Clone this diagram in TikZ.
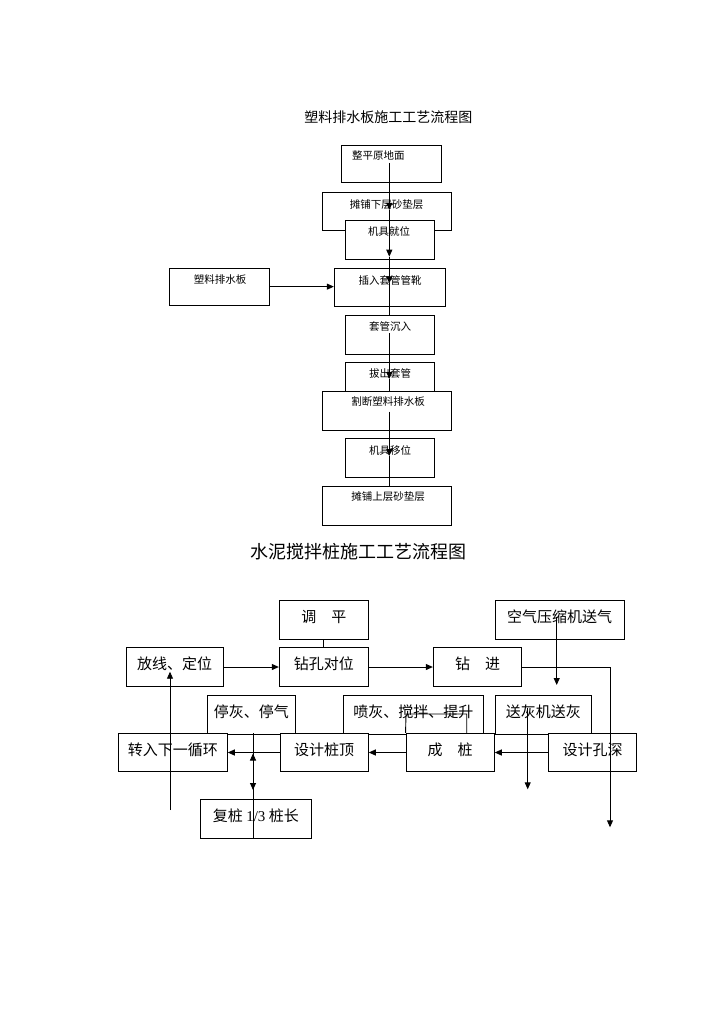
\documentclass[tikz,border=0pt]{standalone}
\usepackage{fontspec}
\setmainfont{Liberation Serif}
\newfontfamily\cjk{Noto Sans CJK SC}
\usetikzlibrary{arrows.meta}
\begin{document}
\begin{tikzpicture}[x=1pt,y=-1pt,line width=0.9pt,
  box/.style={draw,fill=white,inner sep=0pt},
  bbox/.style={draw,fill=white,inner sep=0pt,minimum height=39pt,text height=13pt,text depth=8pt,font=\cjk\fontsize{15}{18}\selectfont},
  sm/.style={font=\cjk\fontsize{10.5}{12}\selectfont,inner sep=0pt},
  arr/.style={-{Triangle[length=7pt,width=6pt]}}]
\useasboundingbox (0,0) rectangle (724,1024);
\fill[white] (0,0) rectangle (724,1024);

% ---------- top chart ----------
\node[font=\cjk\fontsize{14}{16}\selectfont,inner sep=0pt] (title1) at (388.3,116.7) {塑料排水板施工工艺流程图};

\node[box,minimum width=99.3pt,minimum height=37.7pt] (b1) at (391.35,163.85) {};
\node[box,minimum width=129pt,minimum height=38pt] (b2) at (387.2,211.7) {};
\node[box,minimum width=88.7pt,minimum height=38.6pt] (b3) at (389.65,240) {};
\node[box,minimum width=100pt,minimum height=36.7pt] (b4) at (219.3,286.65) {};
\node[box,minimum width=110.7pt,minimum height=38.4pt] (b5) at (389.65,287.5) {};
\node[box,minimum width=88.6pt,minimum height=38.3pt] (b6) at (390,334.85) {};
\node[box,minimum width=88.6pt,minimum height=38pt] (b7) at (390,381.7) {};
\node[box,minimum width=129pt,minimum height=38.3pt] (b8) at (387.2,410.85) {};
\node[box,minimum width=88.6pt,minimum height=39pt] (b9) at (390,457.8) {};
\node[box,minimum width=129pt,minimum height=38.6pt] (b10) at (387.2,506) {};

\node[sm] (t1) at (378.3,156) {整平原地面};
\node[sm] (t2) at (386.7,204.3) {摊铺下层砂垫层};
\node[sm] (t3) at (389,231.7) {机具就位};
\node[sm] (t4) at (220,280) {塑料排水板};
\node[sm] (t5) at (390,280) {插入套管管靴};
\node[sm] (t6) at (390,326) {套管沉入};
\node[sm] (t7) at (390,373.3) {拔出套管};
\node[sm] (t8) at (388,401.7) {割断塑料排水板};
\node[sm] (t9) at (390,450) {机具移位};
\node[sm] (t10) at (388,496.7) {摊铺上层砂垫层};

\coordinate (v1) at (389.3,163);
\coordinate (v2) at (389.3,210);
\coordinate (v3) at (389.3,256.7);
\coordinate (v4) at (389.3,283.3);
\coordinate (v5) at (389.3,315.7);
\coordinate (v6) at (389.3,333);
\coordinate (v7) at (389.3,379);
\coordinate (v8) at (389.3,391.7);
\coordinate (v9) at (389.3,411.7);
\coordinate (v10) at (389.3,456);
\coordinate (v11) at (389.3,486.7);
\draw[arr] (v1) -- (v2);
\draw[arr] (v2) -- (v3);
\draw[arr] (v3) -- (v4);
\draw (v4) -- (v5);
\draw[arr] (v6) -- (v7);
\draw (v7) -- (v8);
\draw[arr] (v9) -- (v10);
\draw (v10) -- (v11);
\draw[arr] (b4.east) -- (b5.west |- b4.east);

% ---------- bottom chart ----------
\node[font=\cjk\fontsize{18}{20}\selectfont,inner sep=0pt] (title2) at (358,551.7) {水泥搅拌桩施工工艺流程图};

\node[bbox,minimum width=89pt] (tp) at (323.8,619.65) {调　平};
\node[bbox,minimum width=129pt] (kq) at (559.5,619.65) {空气压缩机送气};
\node[bbox,minimum width=97.3pt] (fx) at (174.65,667) {放线、定位};
\node[bbox,minimum width=89pt] (zk) at (323.8,667) {钻孔对位};
\node[bbox,minimum width=88.4pt] (zj) at (477.5,667) {钻　进};
\node[bbox,minimum width=87.3pt] (tz) at (251.35,714.5) {停灰、停气};
\node[bbox,minimum width=140pt] (ph) at (413.3,714.5) {喷灰、搅拌、提升};
\node[bbox,minimum width=96.7pt] (sh) at (543.35,714.5) {送灰机送灰};
\node[bbox,minimum width=109pt,minimum height=38.4pt] (zr) at (172.8,752.5) {转入下一循环};
\node[bbox,minimum width=88.3pt,minimum height=38.4pt] (zd) at (324.15,752.5) {设计桩顶};
\node[bbox,minimum width=88.3pt,minimum height=38.4pt] (cz) at (450.15,752.5) {成　桩};
\node[bbox,minimum width=88.4pt,minimum height=38.4pt] (sk) at (592.5,752.5) {设计孔深};
\node[bbox,minimum width=110.3pt] (fz) at (255.85,818.8) {复桩 {\rmfamily 1/3} 桩长};

\draw (tp.south) -- (zk.north);
\draw[arr] (fx.east) -- (zk.west);
\draw[arr] (zk.east) -- (zj.west);
\coordinate (c2) at (610,827.3);
\draw[arr] (zj.east) -| (c2);
\coordinate (k1) at (556.7,616.7);
\coordinate (k2) at (556.7,685);
\draw[arr] (k1) -- (k2);
\coordinate (s1) at (527.7,708);
\coordinate (s2) at (527.7,789.3);
\draw[arr] (s1) -- (s2);
\draw[arr] (sk.west) -- (cz.east);
\draw[arr] (cz.west) -- (zd.east);
\draw[arr] (zd.west) -- (zr.east);
\coordinate (q0) at (406,714);
\coordinate (q2) at (466.7,714);
\coordinate (q1) at (466.7,733.3);
\draw (cz.north west) -- (q0) -- (q2) -- (q1);
\coordinate (f1) at (253,733.3);
\coordinate (f2) at (253,838.3);
\coordinate (fu) at (253,753.5);
\coordinate (fd) at (253,790);
\coordinate (fm) at (253,772);
\draw (f1) -- (f2);
\draw[arr] (fm) -- (fu);
\draw[arr] (fm) -- (fd);
\coordinate (g1) at (170,810);
\coordinate (g2) at (170,671.7);
\draw[arr] (g1) -- (g2);
\end{tikzpicture}
\end{document}
